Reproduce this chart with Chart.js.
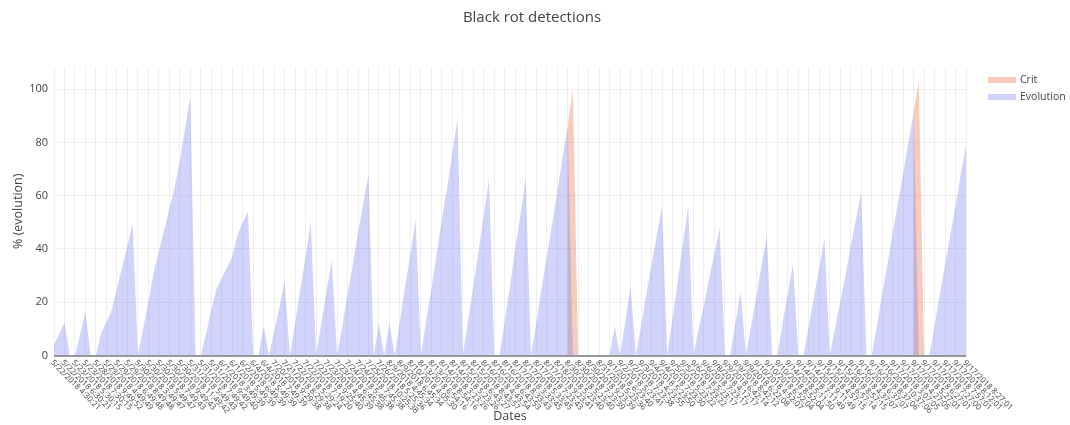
<!DOCTYPE html>
<html>
<head>
<meta charset="utf-8">
<title>Black rot detections</title>
<script src="https://cdn.jsdelivr.net/npm/chart.js@4.4.1/dist/chart.umd.min.js"></script>
<style>
  html, body { margin: 0; padding: 0; background: #fff; }
  #wrap { position: relative; width: 1070px; height: 425px; }
</style>
</head>
<body>
<div id="wrap"><canvas id="chart"></canvas></div>
<script>
// one label for every second sample (the axis only labels every other date)
const dateLabels = [
  "5/22/2018 4:30:21", "5/22/2018 6:30:21", "5/23/2018 5:30:15", "5/23/2018 7:30:15",
  "5/28/2018 9:49:52", "5/29/2018 4:49:49", "5/29/2018 6:49:48", "5/29/2018 8:49:48",
  "5/30/2018 3:49:47", "5/30/2018 5:49:47", "5/30/2018 7:49:43", "5/30/2018 9:49:43",
  "5/30/2018 11:49:42", "5/31/2018 5:49:43", "5/31/2018 7:49:42", "5/31/2018 9:49:40",
  "6/1/2018 3:49:39", "6/1/2018 5:49:39", "6/2/2018 6:49:39", "6/4/2018 5:49:39",
  "6/4/2018 7:49:39", "7/20/2018 9:29:38", "7/21/2018 8:29:38", "7/22/2018 5:29:24",
  "7/22/2018 7:19:20", "7/22/2018 9:25:40", "7/23/2018 4:45:39", "7/23/2018 6:45:38",
  "7/24/2018 5:45:38", "7/24/2018 7:45:38", "7/25/2018 10:25:38", "7/26/2018 5:25:36",
  "8/9/2018 4:45:34", "8/9/2018 6:45:34", "8/10/2018 4:05:30", "8/13/2018 6:54:16",
  "8/13/2018 8:54:16", "8/14/2018 3:23:26", "8/14/2018 5:23:26", "8/15/2018 6:43:27",
  "8/15/2018 8:43:57", "8/16/2018 4:43:54", "8/16/2018 6:43:53", "8/16/2018 8:33:43",
  "8/17/2018 3:33:45", "8/17/2018 5:33:45", "8/17/2018 7:23:43", "8/17/2018 9:23:41",
  "8/18/2018 5:23:40", "8/30/2018 5:23:40", "8/30/2018 7:23:39", "8/30/2018 9:23:39",
  "8/31/2018 5:23:36", "9/1/2018 6:23:40", "9/2/2018 5:23:41", "9/2/2018 7:23:38",
  "9/3/2018 4:23:55", "9/4/2018 5:23:50", "9/4/2018 7:23:30", "9/5/2018 5:23:22",
  "9/5/2018 7:23:22", "9/6/2018 5:23:17", "9/6/2018 7:23:17", "9/8/2018 4:12:17",
  "9/9/2018 6:42:14", "9/9/2018 8:42:12", "9/9/2018 6:22:08", "9/10/2018 4:52:07",
  "9/10/2018 6:52:04", "9/10/2018 8:52:04", "9/14/2018 5:11:50", "9/14/2018 7:11:49",
  "9/14/2018 9:11:49", "9/15/2018 4:57:15", "9/15/2018 6:57:14", "9/15/2018 8:57:15",
  "9/16/2018 4:37:07", "9/16/2018 6:37:07", "9/16/2018 8:37:06", "9/16/2018 10:37:06",
  "9/17/2018 3:07:05", "9/17/2018 4:27:05", "9/17/2018 5:27:01", "9/17/2018 6:27:01",
  "9/17/2018 7:27:00", "9/17/2018 7:57:01", "9/17/2018 8:12:01", "9/17/2018 8:27:01"
];

// % evolution per sample
const evolution = [
  4, 8, 12.5, 0, 0, 8, 16.5, 0, 0, 8.5, 12.5, 17, 25, 33, 41, 49.5, 0,
  10, 20, 31, 39, 47, 55, 63, 73, 85, 97, 0,
  0, 8, 17, 25, 29, 33, 37, 45, 50, 54, 0,
  0, 11, 0, 9, 18, 28, 0, 12, 25, 37, 50, 0, 12, 24, 36, 0,
  11, 23, 34, 46, 57, 68, 0, 12, 0, 12, 0, 13, 26, 38, 51, 0,
  13, 25, 38, 51, 63, 76, 89, 0, 13, 26, 39, 53, 66, 0,
  0, 13, 26, 40, 53, 66, 0, 12, 25, 37, 49, 61, 74, 86, 0,
  0, 0, 0, 0, 0, 0, 0, 11, 0, 13, 26, 0,
  11, 23, 34, 45, 56, 0, 14, 28, 42, 56, 0,
  10, 19, 29, 38, 48, 0, 0, 12, 24, 0, 11, 22, 34, 45, 0,
  0, 12, 23, 34.5, 0, 0, 11, 22, 33, 44, 0,
  10, 20, 30, 41, 51, 61, 0, 0, 11, 23, 34, 46, 57, 68, 80, 91, 0,
  0, 0, 11, 23, 34, 45, 56, 68, 79
];

// critical threshold reached (only defined around the two alerts)
const n = null;
const crit = [
  n, n, n, n, n, n, n, n, n, n, n, n, n, n, n, n, n, n, n, n,
  n, n, n, n, n, n, n, n, n, n, n, n, n, n, n, n, n, n, n, n,
  n, n, n, n, n, n, n, n, n, n, n, n, n, n, n, n, n, n, n, n,
  n, n, n, n, n, n, n, n, n, n, n, n, n, n, n, n, n, n, n, n,
  n, n, n, n, n, n, n, n, n, n, n, n, n, n, n, n, n, n, 86, 100,
  0, n, n, n, n, n, n, n, n, n, n, n, n, n, n, n, n, n, n, n,
  n, n, n, n, n, n, n, n, n, n, n, n, n, n, n, n, n, n, n, n,
  n, n, n, n, n, n, n, n, n, n, n, n, n, n, n, n, n, n, n, n,
  n, n, n, n, 91, 103, 0, n, n, n, n, n, n, n, n
];

const yTicks = [0, 20, 40, 60, 80, 100];

const FONT = '"Open Sans", "Noto Sans", sans-serif';
const TEXT = "#444";
const colors = { Crit: "rgba(236, 120, 82, 0.38)", Evolution: "rgba(99, 108, 240, 0.3)" };

const toPoints = (arr) => arr.map((v, i) => ({ x: i, y: v }));

// title, rotated date labels and plotly-style legend
const decorations = {
  id: "decorations",
  afterDraw(chart) {
    const { ctx, chartArea } = chart;
    const xs = chart.scales.x;
    ctx.save();
    ctx.fillStyle = TEXT;
    ctx.textBaseline = "middle";

    ctx.font = "15px " + FONT;
    ctx.textAlign = "center";
    ctx.fillText("Black rot detections", chart.width / 2 - 3, 18);

    ctx.font = "8px " + FONT;
    ctx.textAlign = "left";
    xs.ticks.forEach((t) => {
      const label = dateLabels[t.value / 2];
      if (!label) return;
      ctx.save();
      ctx.translate(xs.getPixelForValue(t.value) - 2, chartArea.bottom + 6);
      ctx.rotate((45 * Math.PI) / 180);
      ctx.fillText(label, 0, 0);
      ctx.restore();
    });

    ctx.font = "10.5px " + FONT;
    chart.data.datasets.forEach((ds, i) => {
      const y = chartArea.top + 13 + i * 17;
      const x = chartArea.right + 22;
      ctx.fillStyle = ds.backgroundColor;
      ctx.fillRect(x, y - 3, 28, 6);
      ctx.fillStyle = TEXT;
      ctx.fillText(ds.label, x + 32, y);
    });
    ctx.restore();
  },
};

new Chart(document.getElementById("chart"), {
  type: "line",
  data: {
    datasets: [
      {
        label: "Crit",
        data: toPoints(crit),
        fill: "origin",
        backgroundColor: colors.Crit,
        borderWidth: 0,
        pointRadius: 0,
        spanGaps: false,
        order: 1,
      },
      {
        label: "Evolution",
        data: toPoints(evolution),
        fill: "origin",
        backgroundColor: colors.Evolution,
        borderWidth: 0,
        pointRadius: 0,
        order: 0,
      },
    ],
  },
  options: {
    responsive: true,
    maintainAspectRatio: false,
    animation: false,
    devicePixelRatio: 1,
    layout: { padding: { left: 0, right: 104, top: 67, bottom: 0 } },
    plugins: {
      legend: { display: false },
      tooltip: { enabled: false },
      title: { display: false },
    },
    scales: {
      x: {
        type: "linear",
        min: 0,
        max: evolution.length - 1,
        grid: { color: "#eee", drawTicks: false },
        border: { display: false },
        ticks: { display: false, stepSize: 2, maxTicksLimit: 500 },
        title: {
          display: true,
          text: "Dates",
          color: TEXT,
          font: { family: FONT, size: 12.5 },
          padding: { top: 0, bottom: 1 },
        },
        afterFit: (s) => { s.height = 69.5; },
      },
      y: {
        min: 0,
        max: 108.3,
        grid: {
          drawTicks: false,
          color: (c) => (c.tick && c.tick.value === 0 ? "#999" : "#eee"),
          lineWidth: (c) => (c.tick && c.tick.value === 0 ? 2 : 1),
        },
        border: { display: false },
        afterBuildTicks: (s) => { s.ticks = yTicks.map((v) => ({ value: v })); },
        ticks: { color: TEXT, font: { family: FONT, size: 11 }, padding: 6 },
        title: {
          display: true,
          text: "% (evolution)",
          color: TEXT,
          font: { family: FONT, size: 12.5 },
          padding: { top: 11, bottom: 1 },
        },
        afterFit: (s) => { s.width = 54; },
      },
    },
  },
  plugins: [decorations],
});
</script>
</body>
</html>
